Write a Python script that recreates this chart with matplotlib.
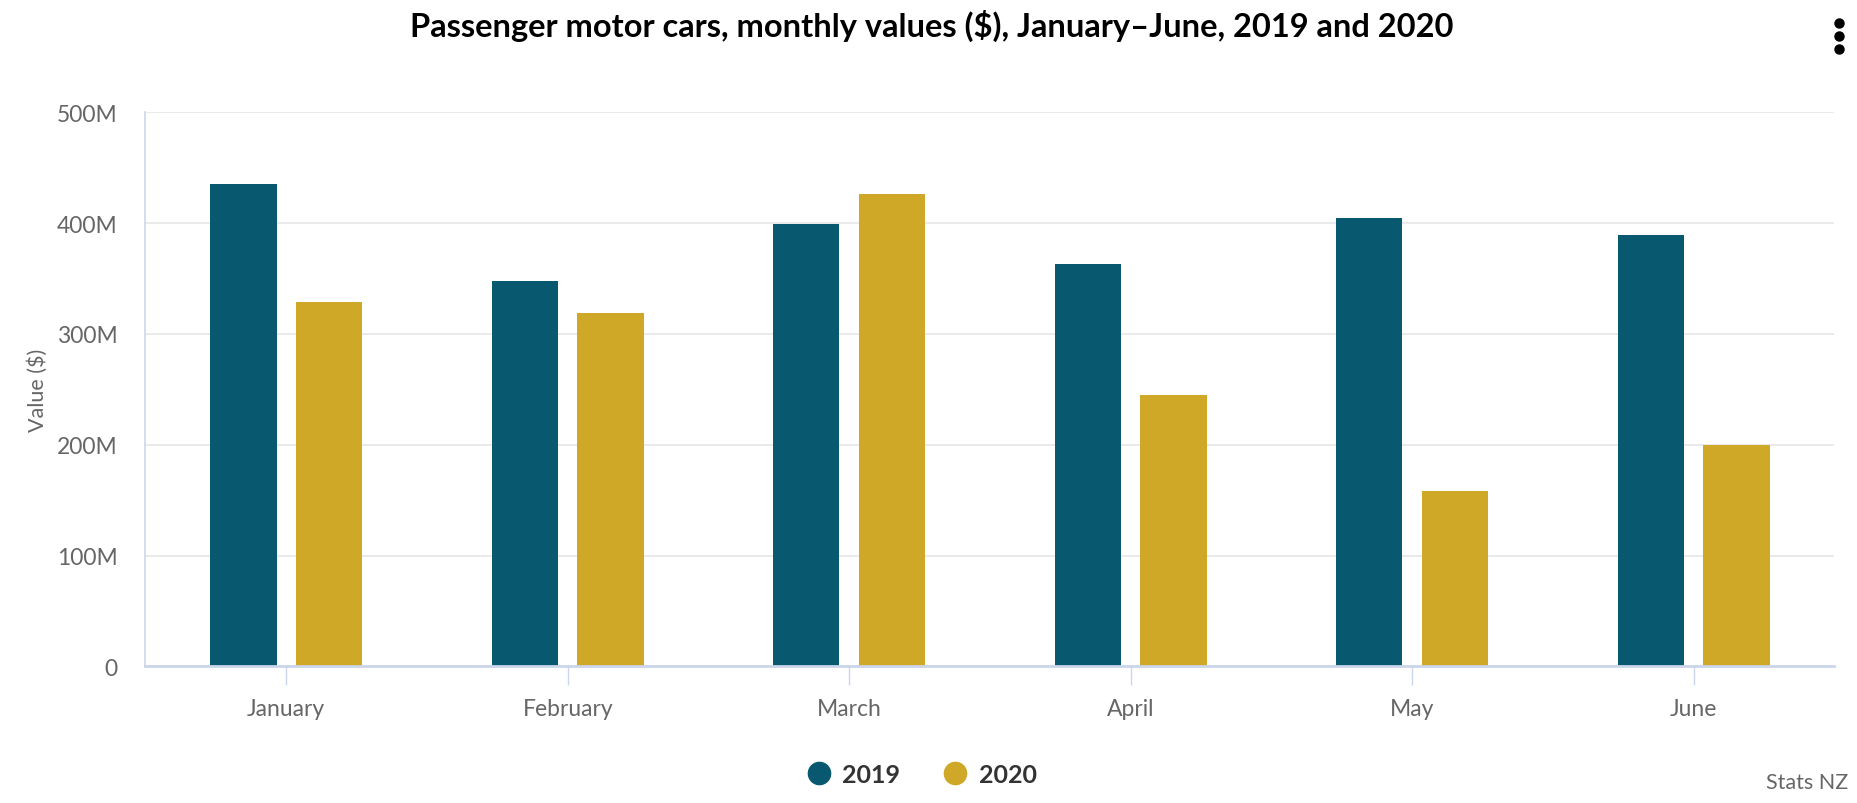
import numpy as np
import matplotlib
matplotlib.use("Agg")
import matplotlib.pyplot as plt
from matplotlib.lines import Line2D
from matplotlib.ticker import FuncFormatter

# 数据（单位：百万美元）
months = ["January", "February", "March", "April", "May", "June"]
values_2019 = [435, 348, 399, 363, 405, 389]
values_2020 = [329, 319, 426, 245, 158, 200]
series_names = ["2019", "2020"]
colors = ["#08586F", "#CFA828"]

plt.rcParams['font.family'] = ['Lato', 'DejaVu Sans']

fig = plt.figure(figsize=(18.58, 8.04), dpi=100)
ax = fig.add_axes([0.0783, 0.1700, 0.9090, 0.6890])

x = np.arange(len(months))
w = 0.235
ax.bar(x - 0.152, values_2019, width=w, color=colors[0], zorder=3)
ax.bar(x + 0.152, values_2020, width=w, color=colors[1], zorder=3)

ax.set_xlim(-0.5, len(months) - 0.5)
ax.set_ylim(0, 500)
ax.set_yticks(range(0, 501, 100))
ax.yaxis.set_major_formatter(FuncFormatter(lambda v, p: "0" if v == 0 else f"{int(v)}M"))
ax.set_xticks(x)
ax.set_xticklabels(months)

# 网格和坐标轴样式
ax.grid(axis='y', color='#e6e6e6', linewidth=1.2, zorder=0)
for s in ['top', 'right']:
    ax.spines[s].set_visible(False)
ax.spines['left'].set_color('#ccd6eb')
ax.spines['left'].set_linewidth(1.2)
ax.spines['bottom'].set_color('#ccd6eb')
ax.spines['bottom'].set_linewidth(2)
ax.spines['bottom'].set_zorder(4)
ax.tick_params(axis='y', length=0, pad=20, labelsize=16.5, labelcolor='#666666')
ax.tick_params(axis='x', length=14, width=1, color='#ccd6eb', pad=9,
               labelsize=16.5, labelcolor='#666666')

ax.set_ylabel("Value ($)", fontsize=15.5, color='#666666')
ax.yaxis.set_label_coords(-0.058, 0.5)

fig.text(0.5015, 0.968, "Passenger motor cars, monthly values ($), January\u2013June, 2019 and 2020",
         ha='center', va='center', fontsize=23.5, fontweight='bold', color='#000000')

# 图例
handles = [Line2D([], [], marker='o', linestyle='none', markersize=16,
                  markerfacecolor=c, markeredgecolor=c) for c in colors]
leg = fig.legend(handles, series_names, loc='center', bbox_to_anchor=(0.4960, 0.036),
                 ncol=2, frameon=False, handlelength=1.0, handletextpad=0.45,
                 columnspacing=1.7, prop={'size': 18, 'weight': 'bold'})
for t in leg.get_texts():
    t.set_color('#333333')

fig.text(0.9945, 0.026, "Stats NZ", ha='right', va='center', fontsize=15.5, color='#666666')

# 右上角菜单图标
fig.add_artist(Line2D([0.9900] * 3, [0.970, 0.954, 0.938], transform=fig.transFigure,
                      marker='o', linestyle='none', markersize=6.5, color='#000000'))

fig.savefig("out.png", dpi=100)
